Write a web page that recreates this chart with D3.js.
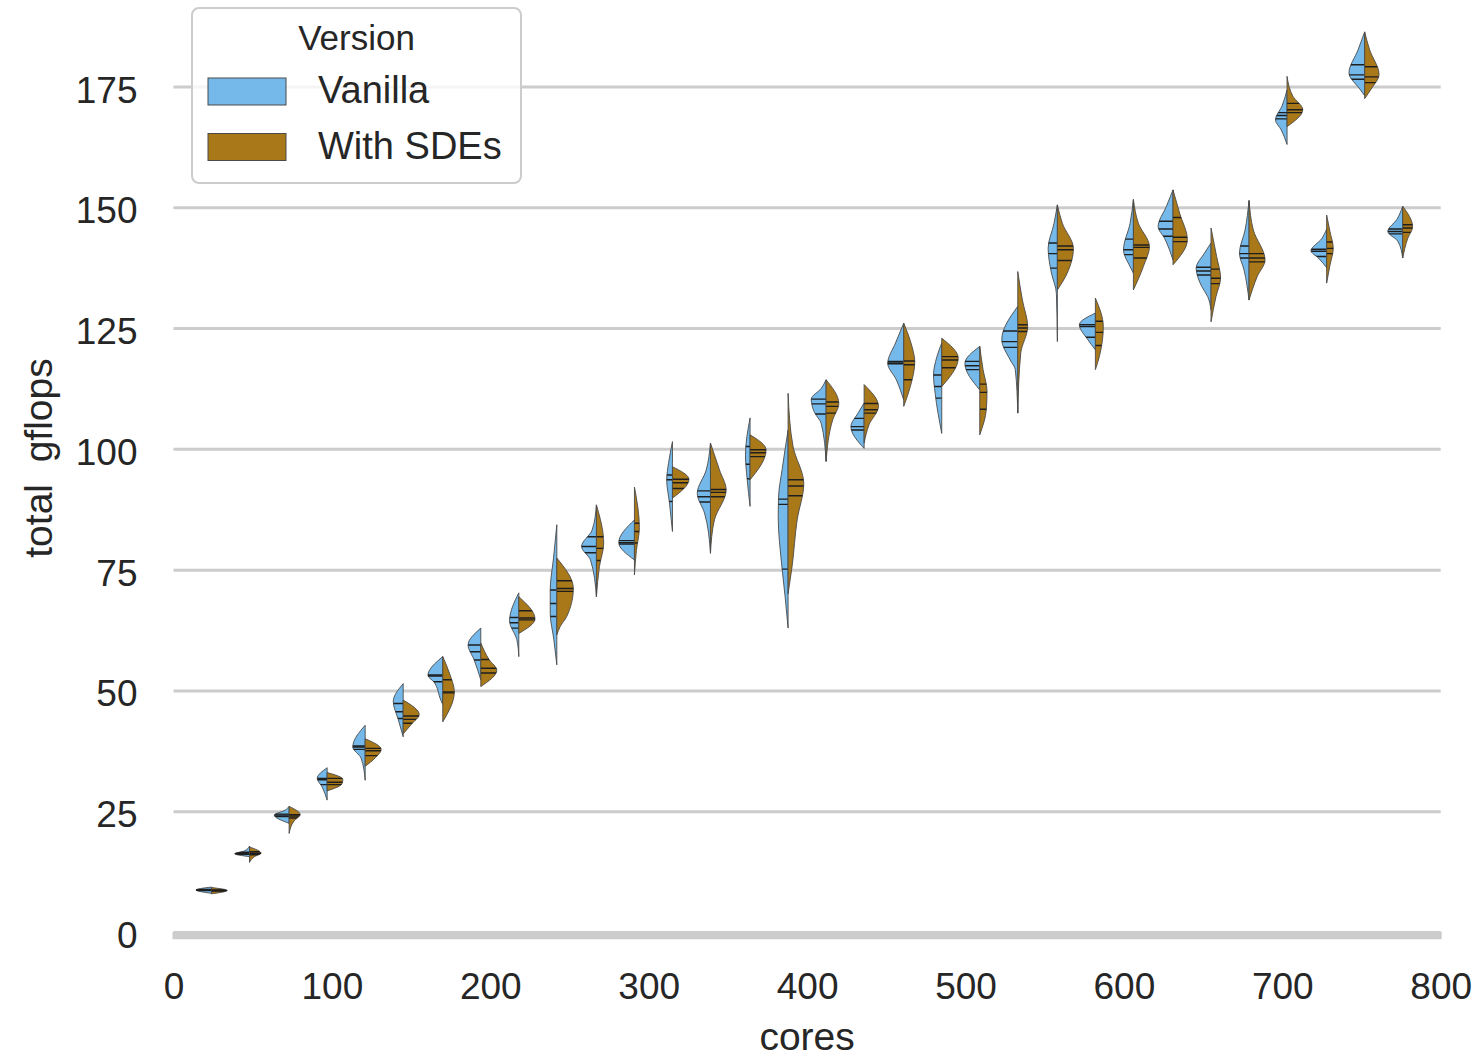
<!DOCTYPE html>
<html>
<head>
<meta charset="utf-8">
<script src="https://cdn.jsdelivr.net/npm/d3@7"></script>
<style>
body { margin: 0; background: #ffffff; }
text { font-family: "Liberation Sans", Arial, sans-serif; fill: #262626; }
</style>
</head>
<body>
<svg id="chart" width="1481" height="1057"></svg>
<script>
// x position of each violin (cores)
var cores = [24, 48, 73, 97, 121, 145, 170, 194, 218, 242, 267, 291, 315, 339, 364, 388,
	412, 436, 461, 485, 509, 533, 558, 582, 606, 631, 655, 679, 703, 728, 752, 776];

// half-violin outlines: [gflops, relative density]
var vanillaShape = [
	[[8.0,0],[8.7,0.95],[9.3,0]],
	[[15.6,0],[16.2,0.9],[16.8,0.3],[17.8,0]],
	[[22.5,0],[24.2,0.9],[25.2,0.25],[26,0]],
	[[27.3,0],[30,0.3],[31.8,0.6],[34,0]],
	[[31.4,0],[36,0.25],[38.3,0.75],[42.8,0]],
	[[40.4,0],[44,0.3],[47.7,0.6],[51.4,0]],
	[[47.1,0],[48,0.12],[51.8,0.55],[53.1,0.9],[57,0]],
	[[52.2,0],[56.3,0.4],[59.4,0.77],[62.9,0]],
	[[57,0],[60.5,0.12],[64.4,0.56],[70.2,0]],
	[[55.3,0],[60.5,0.18],[66,0.4],[70.8,0.4],[77.4,0.2],[84.3,0]],
	[[69.4,0],[77,0.36],[79.8,0.9],[83.2,0.26],[88.4,0]],
	[[77,0],[80.6,0.95],[85.3,0]],
	[[82.9,0],[88.8,0.18],[93.6,0.35],[97,0.24],[101.5,0]],
	[[78.4,0],[86.7,0.36],[90.8,0.8],[95.6,0.26],[101.2,0]],
	[[88.1,0],[93.8,0.18],[98.7,0.28],[106.4,0]],
	[[62.9,0],[69.4,0.18],[75.1,0.36],[86,0.6],[90,0.58],[96,0.35],[103.9,0]],
	[[97.4,0],[105.3,0.3],[107.5,0.7],[110.3,0.9],[112.5,0.3],[114.3,0]],
	[[100.1,0],[104.6,0.8],[107.5,0.35],[109.5,0]],
	[[110.1,0],[114.3,0.45],[117.7,0.97],[121.9,0.5],[126,0]],
	[[103.2,0],[111.5,0.4],[115.3,0.5],[119,0.3],[121.9,0]],
	[[112.2,0],[117.7,0.9],[121.2,0]],
	[[107.4,0],[116.4,0.15],[118.4,0.46],[122.6,0.97],[129.5,0]],
	[[122.2,0],[132.2,0.06],[136.4,0.36],[141.5,0.56],[146.7,0.2],[150.5,0]],
	[[120.5,0],[122.6,0.46],[125.7,0.97],[128.1,0]],
	[[136.4,0],[137.7,0.2],[141.2,0.6],[146.7,0.2],[151.6,0]],
	[[139.1,0],[143.5,0.5],[146,0.9],[150.2,0.4],[153.6,0]],
	[[128.8,0],[131.5,0.2],[133.6,0.56],[137.4,0.9],[140.5,0.4],[142.6,0]],
	[[130.8,0],[137,0.3],[140.5,0.58],[145.3,0.24],[151.4,0]],
	[[163,0],[166,0.35],[168.1,0.7],[171,0.3],[174.3,0]],
	[[137.5,0],[139.5,0.5],[141,0.95],[143.5,0.3],[145.5,0]],
	[[173.1,0],[174.5,0.3],[177.8,0.95],[182.6,0.4],[186.3,0]],
	[[139.5,0],[143,0.3],[145,0.9],[147.5,0.35],[150.2,0]]
];
var sdeShape = [
	[[7.9,0],[8.6,0.95],[9.2,0]],
	[[14.4,0],[15.6,0.3],[16.3,0.7],[17.6,0]],
	[[20.4,0],[23,0.3],[24.3,0.67],[26,0]],
	[[29.2,0],[30.7,0.9],[31.6,0.95],[33,0]],
	[[34.3,0],[36,0.6],[37.8,0.97],[40,0]],
	[[41,0],[43,0.5],[45,0.97],[48,0]],
	[[43.5,0],[49.7,0.7],[53.6,0.4],[57,0]],
	[[50.8,0],[54.2,0.97],[56.4,0.5],[59.8,0]],
	[[61.8,0],[64.8,0.98],[69.4,0]],
	[[61.5,0],[63.2,0.2],[65.3,0.6],[71.1,1.0],[77.4,0]],
	[[69.4,0],[75.6,0.18],[80.5,0.44],[88.4,0]],
	[[73.9,0],[79,0.12],[83.7,0.3],[92.1,0]],
	[[89.8,0],[93.7,1.0],[96.3,0]],
	[[78.4,0],[85.3,0.24],[91.5,0.95],[95.6,0.55],[101.2,0]],
	[[93.6,0],[99.8,0.97],[102.9,0]],
	[[70,0],[75.6,0.24],[85.3,0.55],[92.8,0.95],[100.5,0.3],[111.5,0]],
	[[97.4,0],[106,0.4],[109.4,0.77],[114.3,0]],
	[[101.2,0],[105,0.3],[108.8,0.87],[113.3,0]],
	[[108.8,0],[112.9,0.4],[118,0.67],[121.2,0.5],[126,0]],
	[[112.9,0],[118.8,1.0],[122.9,0]],
	[[102.9,0],[108.2,0.4],[112,0.44],[116.4,0.2],[121.2,0]],
	[[107.4,0],[119.8,0.18],[125.3,0.6],[130.8,0.28],[136.7,0]],
	[[132.9,0],[136.4,0.6],[141.5,0.97],[146.7,0.3],[150.5,0]],
	[[116.4,0],[119.1,0.24],[125.3,0.48],[131.2,0]],
	[[132.9,0],[137.7,0.6],[141.9,0.97],[146.7,0.3],[151.6,0]],
	[[138.1,0],[143.3,0.87],[148.8,0.4],[153.6,0]],
	[[126.3,0],[131.5,0.3],[135.4,0.58],[139.8,0.34],[145.7,0]],
	[[130.8,0],[135.7,0.5],[139.1,0.97],[145.3,0.26],[151.4,0]],
	[[166.7,0],[170.2,0.95],[173,0.35],[177.1,0]],
	[[134.3,0],[138,0.2],[141.5,0.4],[145,0.2],[148.4,0]],
	[[172.5,0],[174.5,0.4],[177.5,0.87],[182.6,0.3],[186.3,0]],
	[[139.5,0],[143.5,0.3],[146,0.6],[150.2,0]]
];

// quartile lines [q1, median, q3]
var vanillaQuart = [
	[8.6,8.7,8.8],[16.1,16.3,16.5],[23.9,24.2,24.4],[30.5,31.5,31.8],[37.8,38.3,38.5],
	[44.2,45.6,47.3],[51.8,53.0,53.2],[56.3,58.0,59.4],[62.9,64.0,65.1],[65.3,68.0,70.8],
	[78.5,79.8,81.8],[80.3,80.6,81.0],[89.1,93.6,94.6],[89.0,90.1,91.3],[93.8,96.8,100.5],
	[75.1,88.5,89.6],[107.2,109.3,110.3],[103.9,104.6,106.3],[117.6,117.8,118.1],[110.5,112.9,115.3],
	[116.4,117.2,118.1],[121.0,122.2,124.4],[137.4,140.4,142.6],[123.1,125.3,125.7],[140.2,141.2,143.4],
	[144.0,145.5,147.1],[136.0,136.8,137.6],[139.5,140.4,142.0],[168.3,169.0,169.6],[139.8,140.9,141.3],
	[176.5,177.4,179.5],[144.5,145.0,145.5]
];
var sdeQuart = [
	[8.5,8.6,8.7],[16.0,16.3,16.6],[23.6,24.0,24.3],[30.5,31.0,31.8],[36.5,37.5,38.0],
	[43.2,44.0,44.7],[49.5,49.7,52.2],[53.6,54.6,56.4],[64.6,65.0,66.5],[70.5,71.1,72.7],
	[76.9,79.4,81.8],[80.5,82.9,84.6],[91.8,93.0,93.7],[90.1,91.0,91.6],[98.4,99.2,99.8],
	[90.3,92.3,93.6],[107.4,108.8,109.7],[107.4,108.1,109.4],[114.3,117.4,118.2],[116.8,118.4,119.1],
	[108.2,111.7,113.4],[124.3,125.0,125.7],[139.0,141.2,142.0],[121.4,124.1,126.4],[139.5,141.7,142.2],
	[142.9,143.8,147.9],[134.2,135.3,137.2],[138.7,139.5,140.4],[169.6,170.2,171.5],[140.4,141.5,142.8],
	[175.8,177.0,179.1],[144.8,145.7,146.4]
];

var xTicks = [0, 100, 200, 300, 400, 500, 600, 700, 800];
var yTicks = [0, 25, 50, 75, 100, 125, 150, 175];
var versions = ["Vanilla", "With SDEs"];
var colors = ["#74b9ea", "#a97818"];

var svg = d3.select("#chart");
var x = d3.scaleLinear().domain([0, 800]).range([173.5, 1440.7]);
var y = d3.scaleLinear().domain([0, 175]).range([932, 86.5]);
var w = d3.scaleLinear().domain([0, 1]).range([0, 16.5]); // half width of a violin
var plotWidth = x(800) - x(0);

// horizontal grid + y tick labels
var yAxis = svg.append("g").attr("transform", "translate(" + x(0) + ",0)")
	.call(d3.axisLeft(y).tickValues(yTicks).tickSize(-plotWidth).tickPadding(36));
yAxis.select(".domain").remove();
yAxis.selectAll(".tick line").attr("stroke", "#cccccc").attr("stroke-width", 3);
yAxis.selectAll(".tick text").attr("font-size", 37).attr("dy", "0.42em")
	.style("font-family", "Liberation Sans, Arial, sans-serif").attr("fill", "#262626");

// thick bottom line at zero
svg.append("line").attr("x1", x(0) - 1).attr("x2", x(800) + 1)
	.attr("y1", y(0) + 3.5).attr("y2", y(0) + 3.5)
	.attr("stroke", "#cccccc").attr("stroke-width", 7.5);

// x tick labels
var xAxis = svg.append("g").attr("transform", "translate(0," + y(0) + ")")
	.call(d3.axisBottom(x).tickValues(xTicks).tickSize(0).tickPadding(41));
xAxis.select(".domain").remove();
xAxis.selectAll(".tick text").attr("font-size", 37)
	.style("font-family", "Liberation Sans, Arial, sans-serif").attr("fill", "#262626");

// axis titles
svg.append("text").attr("x", (x(0) + x(800)) / 2).attr("y", 1050)
	.attr("text-anchor", "middle").attr("font-size", 39).text("cores");
svg.append("text").attr("transform", "translate(52,458) rotate(-90)")
	.attr("text-anchor", "middle").attr("font-size", 39)
	.style("white-space", "pre").text("total  gflops");

// draws one half of a split violin, side = -1 left / +1 right
function drawHalf(g, shape, quart, cx, side, color, id) {
	var pts = shape.slice().sort(function(a, b) { return b[0] - a[0]; });
	var area = d3.area().curve(d3.curveMonotoneY)
		.y(function(d) { return y(d[0]); })
		.x0(cx)
		.x1(function(d) { return cx + side * w(d[1]); });
	g.append("clipPath").attr("id", id).append("path").attr("d", area(pts));
	g.append("path").attr("d", area(pts))
		.attr("fill", color).attr("stroke", "#4a4a4a").attr("stroke-width", 0.9);
	g.append("g").attr("clip-path", "url(#" + id + ")")
		.selectAll("line").data(quart).enter().append("line")
		.attr("x1", cx).attr("x2", cx + side * 20)
		.attr("y1", function(d) { return y(d); })
		.attr("y2", function(d) { return y(d); })
		.attr("stroke", "#1e1e1e").attr("stroke-width", 1.4);
}

var violins = svg.append("g");
for (var i = 0; i < cores.length; i++) {
	var g = violins.append("g");
	drawHalf(g, vanillaShape[i], vanillaQuart[i], x(cores[i]), -1, colors[0], "cv" + i);
	drawHalf(g, sdeShape[i], sdeQuart[i], x(cores[i]), 1, colors[1], "cs" + i);
}

// legend
var legend = svg.append("g");
legend.append("rect").attr("x", 192).attr("y", 8).attr("width", 329).attr("height", 175)
	.attr("rx", 7).attr("fill", "#ffffff").attr("fill-opacity", 0.8)
	.attr("stroke", "#cccccc").attr("stroke-width", 2);
legend.append("text").attr("x", 356.5).attr("y", 50).attr("text-anchor", "middle")
	.attr("font-size", 35).text("Version");
var item = legend.selectAll("g.item").data(versions).enter().append("g")
	.attr("class", "item")
	.attr("transform", function(d, i) { return "translate(0," + (i * 55.5) + ")"; });
item.append("rect").attr("x", 208).attr("y", 78).attr("width", 78).attr("height", 27)
	.attr("fill", function(d, i) { return colors[i]; })
	.attr("stroke", "#4a4a4a").attr("stroke-width", 1);
item.append("text").attr("x", 318).attr("y", 103).attr("font-size", 38)
	.text(function(d) { return d; });
</script>
</body>
</html>
